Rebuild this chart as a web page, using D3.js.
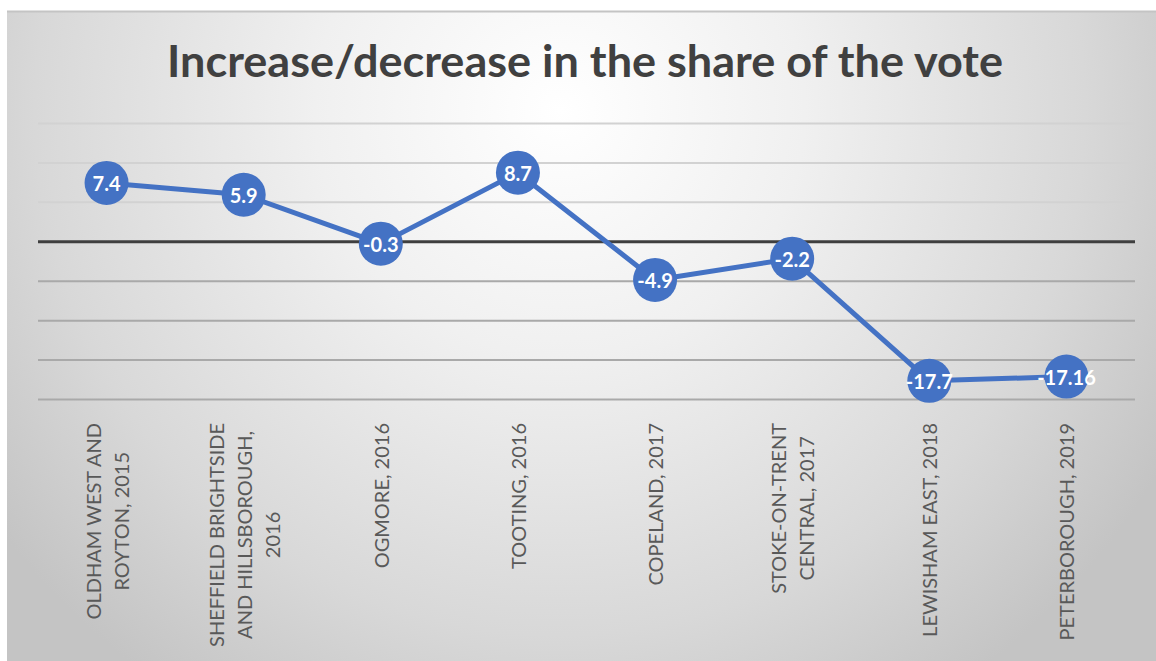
<!DOCTYPE html>
<html>
<head>
<meta charset="utf-8">
<script src="https://cdn.jsdelivr.net/npm/d3@7"></script>
<style>
  html, body { margin: 0; padding: 0; background: #ffffff; }
  svg { display: block; }
</style>
</head>
<body>
<svg id="chart" width="1156" height="661"></svg>
<script>
const titleText = "Increase/decrease in the share of the vote";
const categories = [
  ["OLDHAM WEST AND", "ROYTON, 2015"],
  ["SHEFFIELD BRIGHTSIDE", "AND HILLSBOROUGH,", "2016"],
  ["OGMORE, 2016"],
  ["TOOTING, 2016"],
  ["COPELAND, 2017"],
  ["STOKE-ON-TRENT", "CENTRAL, 2017"],
  ["LEWISHAM EAST, 2018"],
  ["PETERBOROUGH, 2019"]
];
const values = [7.4, 5.9, -0.3, 8.7, -4.9, -2.2, -17.7, -17.16];
const valueLabels = ["7.4", "5.9", "-0.3", "8.7", "-4.9", "-2.2", "-17.7", "-17.16"];
const yTicks = [-20, -15, -10, -5, 0, 5, 10, 15];

const svg = d3.select("#chart");
const W = 1156, H = 661;

// background gradient panel
const defs = svg.append("defs");
const grad = defs.append("radialGradient")
  .attr("id", "bg").attr("gradientUnits", "userSpaceOnUse")
  .attr("cx", 560).attr("cy", 110).attr("r", 700);
grad.append("stop").attr("offset", "0").attr("stop-color", "#ffffff");
grad.append("stop").attr("offset", "0.35").attr("stop-color", "#f0f0f0");
grad.append("stop").attr("offset", "0.75").attr("stop-color", "#d8d8d8");
grad.append("stop").attr("offset", "1").attr("stop-color", "#c4c4c4");

svg.append("rect").attr("x", 7).attr("y", 11).attr("width", W - 7).attr("height", H - 11)
  .attr("fill", "url(#bg)");
svg.append("line").attr("x1", 7).attr("x2", W).attr("y1", 11.5).attr("y2", 11.5)
  .attr("stroke", "#c4c4c4").attr("stroke-width", 2);

// title
svg.append("text")
  .attr("x", 585).attr("y", 77)
  .attr("text-anchor", "middle")
  .attr("font-family", "Lato, 'Open Sans', sans-serif")
  .attr("font-weight", "bold")
  .attr("font-size", 44)
  .attr("fill", "#404040")
  .attr("textLength", 836)
  .attr("lengthAdjust", "spacingAndGlyphs")
  .text(titleText);

// scales
const plotLeft = 38, plotRight = 1135;
const x = d3.scalePoint()
  .domain(d3.range(categories.length))
  .range([plotLeft, plotRight])
  .padding(0.5);
const y = d3.scaleLinear().domain([-20, 15]).range([399, 123]);

// gridlines via axis
const yAxis = d3.axisLeft(y).tickValues(yTicks).tickSize(-(plotRight - plotLeft)).tickFormat("");
const gy = svg.append("g").attr("transform", `translate(${plotLeft},0)`).call(yAxis);
gy.select(".domain").remove();
gy.selectAll(".tick line")
  .attr("stroke", d => d === 0 ? "#3f3f3f" : (d > 0 ? "#d2d2d2" : "#a9a9a9"))
  .attr("stroke-width", d => d === 0 ? 3 : 2);

// line
const line = d3.line().x((d, i) => x(i)).y(d => y(d));
svg.append("path").datum(values)
  .attr("d", line)
  .attr("fill", "none")
  .attr("stroke", "#4472c4")
  .attr("stroke-width", 5)
  .attr("stroke-linejoin", "round");

// markers
svg.append("g").selectAll("circle").data(values).join("circle")
  .attr("cx", (d, i) => x(i)).attr("cy", d => y(d)).attr("r", 22)
  .attr("fill", "#4472c4");

// value labels
svg.append("g").selectAll("text").data(values).join("text")
  .attr("x", (d, i) => x(i)).attr("y", d => y(d))
  .attr("text-anchor", "middle")
  .attr("dominant-baseline", "central")
  .attr("font-family", "Lato, 'Open Sans', sans-serif")
  .attr("font-weight", "bold")
  .attr("font-size", 20)
  .attr("fill", "#ffffff")
  .text((d, i) => valueLabels[i]);

// category labels (rotated, wrapped, centered block)
const lineStep = 28;
const labelTop = 423;
categories.forEach((lines, i) => {
  const g = svg.append("g")
    .attr("transform", `translate(${x(i)},${labelTop}) rotate(-90)`);
  const texts = lines.map((t, k) => g.append("text")
    .attr("y", (k - (lines.length - 1) / 2) * lineStep)
    .attr("text-anchor", "middle")
    .attr("dominant-baseline", "central")
    .attr("font-family", "Lato, 'Open Sans', sans-serif")
    .attr("font-size", 20)
    .attr("fill", "#595959")
    .text(t));
  const L = d3.max(texts, t => t.node().getComputedTextLength());
  texts.forEach(t => t.attr("x", -L / 2));
});
</script>
</body>
</html>
